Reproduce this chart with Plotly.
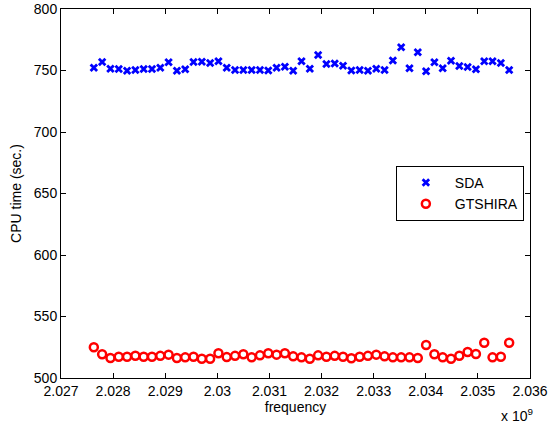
import plotly.graph_objects as go
import numpy as np

# frequencies (Hz): 51 equally spaced sample points
freq_start = 2.02763e9
freq_end = 2.03560e9
n_points = 51
freq = np.linspace(freq_start, freq_end, n_points)

sda = [752.3, 756.9, 751.5, 751.2, 749.8, 750.4, 751.2, 751.2, 752.3, 756.7,
       749.8, 751.0, 756.9, 757.2, 756.1, 757.5, 752.3, 750.4, 750.4, 750.4,
       750.4, 750.0, 752.3, 753.0, 749.8, 757.5, 751.5, 762.6, 755.3, 755.6,
       753.9, 750.0, 750.4, 749.8, 751.5, 750.4, 758.2, 768.9, 751.8, 764.8,
       749.3, 756.7, 751.8, 758.0, 753.6, 752.8, 751.0, 757.5, 757.5, 756.1,
       750.4]

gtshira = [525.0, 519.3, 516.3, 517.3, 517.3, 518.1, 517.3, 517.3, 518.0, 519.0,
           516.3, 516.8, 517.3, 515.7, 515.7, 520.1, 517.0, 518.0, 519.3, 516.8,
           518.4, 520.1, 519.0, 520.1, 517.6, 516.8, 515.7, 518.4, 517.3, 518.0,
           517.3, 516.0, 517.3, 518.0, 519.0, 517.6, 516.8, 516.8, 516.8, 516.3,
           526.8, 519.3, 516.8, 515.7, 518.1, 521.1, 519.5, 528.7, 516.8, 517.3,
           528.7]

x_ticks = [2.027e9 + i * 1e6 for i in range(10)]
x_ticklabels = ["2.027", "2.028", "2.029", "2.03", "2.031", "2.032", "2.033", "2.034", "2.035", "2.036"]
y_ticks = [500, 550, 600, 650, 700, 750, 800]

FONT = "Liberation Sans, Arial, Helvetica, sans-serif"
FS = 14

fig = go.Figure()
fig.add_trace(go.Scatter(
    x=freq, y=sda, mode="markers", name="SDA",
    marker=dict(symbol="x-thin-open", size=6.5, color="#0000ff",
                line=dict(color="#0000ff", width=2.8)),
))
fig.add_trace(go.Scatter(
    x=freq, y=gtshira, mode="markers", name="GTSHIRA",
    marker=dict(symbol="circle-open", size=8, color="#ff0000",
                line=dict(color="#ff0000", width=2.5)),
))

axis_common = dict(
    showgrid=False, zeroline=False, showline=True, mirror="ticks",
    linecolor="black", linewidth=1, ticks="inside", ticklen=5,
    tickcolor="black", tickwidth=1,
    tickfont=dict(family=FONT, size=FS, color="black"),
)

fig.update_layout(
    width=548, height=424,
    margin=dict(l=61, r=18, t=9, b=46, autoexpand=False),
    paper_bgcolor="white", plot_bgcolor="white",
    font=dict(family=FONT, size=FS, color="black"),
    xaxis=dict(range=[2.027e9, 2.036e9], tickvals=x_ticks, ticktext=x_ticklabels,
               title=dict(text="frequency", font=dict(size=FS), standoff=4),
               automargin=False, **axis_common),
    yaxis=dict(range=[500, 800], tickvals=y_ticks,
               title=dict(text="CPU time (sec.)", font=dict(size=FS), standoff=8),
               automargin=False, **axis_common),
    legend=dict(x=0.714, y=0.50, xanchor="left", yanchor="middle",
                bordercolor="black", borderwidth=1, bgcolor="white",
                font=dict(family=FONT, size=FS), tracegroupgap=0,
                itemwidth=48),
    showlegend=True,
)

fig.add_annotation(text="x 10<sup>9</sup>", xref="paper", yref="paper",
                   x=1.0, y=0, yshift=-26, xshift=5, xanchor="right", yanchor="top",
                   showarrow=False, font=dict(family=FONT, size=FS))

fig.write_html("out.html")
